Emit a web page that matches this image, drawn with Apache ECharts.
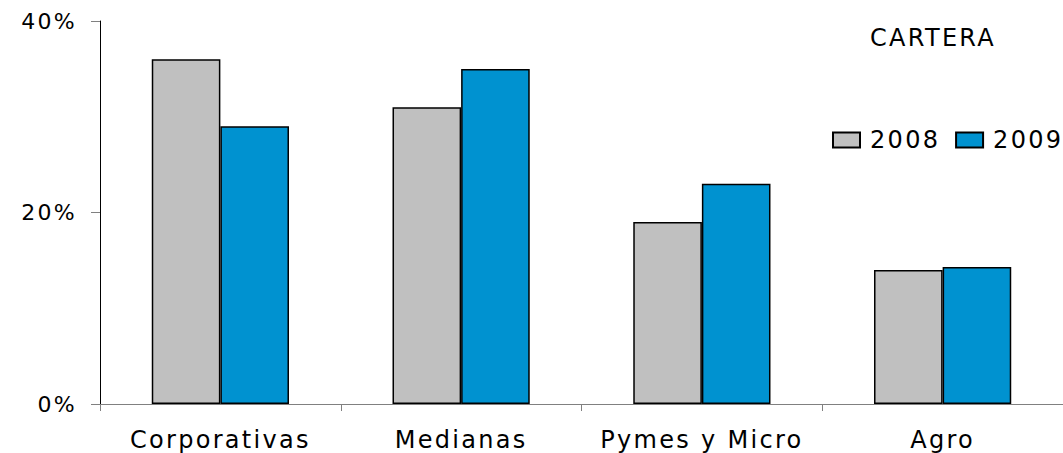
<!DOCTYPE html>
<html>
<head>
<meta charset="utf-8">
<script src="https://cdn.jsdelivr.net/npm/echarts@6/dist/echarts.min.js"></script>
<style>
html,body{margin:0;padding:0;background:#fff;}
#c{width:1063px;height:453px;}
#c svg text{letter-spacing:2.3px;}
</style>
</head>
<body>
<div id="c"></div>
<script>
const categories = ['Corporativas', 'Medianas', 'Pymes y Micro', 'Agro'];
const values2008 = [36, 31, 19, 14];
const values2009 = [29, 35, 23, 14.3];
const seriesNames = ['2008', '2009'];
const yTicks = { min: 0, max: 40, interval: 20 };
const titleText = 'CARTERA';

const chart = echarts.init(document.getElementById('c'), null, { renderer: 'svg' });
const font = 'DejaVu Sans, Verdana, sans-serif';
chart.setOption({
  animation: false,
  title: {
    text: titleText,
    left: 928, top: 21, textAlign: 'center',
    textStyle: { fontFamily: font, fontSize: 24, fontWeight: 'normal', color: '#000' }
  },
  legend: {
    data: seriesNames,
    orient: 'horizontal',
    left: 832, top: 128, width: 231, padding: 0,
    itemWidth: 27, itemHeight: 15, itemGap: 24,
    icon: 'rect',
    textStyle: { fontFamily: font, fontSize: 24, color: '#000', padding: [0, 0, 0, 5] }
  },
  grid: { left: 100, right: 0, top: 21, bottom: 49 },
  xAxis: {
    type: 'category',
    data: categories,
    axisLine: { lineStyle: { color: '#808080', width: 1 } },
    axisTick: { show: true, length: 7, lineStyle: { color: '#808080' } },
    axisLabel: { fontFamily: font, fontSize: 24, color: '#000', margin: 24 }
  },
  yAxis: {
    type: 'value',
    min: yTicks.min, max: yTicks.max, interval: yTicks.interval,
    splitLine: { show: false },
    axisLine: { show: true, lineStyle: { color: '#000', width: 1 } },
    axisTick: { show: true, length: 9, lineStyle: { color: '#808080' } },
    axisLabel: { fontFamily: font, fontSize: 22, color: '#000', margin: 23, formatter: '{value}%' }
  },
  series: [
    {
      name: seriesNames[0], type: 'bar', data: values2008,
      barGap: '0%', barCategoryGap: '43%',
      itemStyle: { color: '#c0c0c0', borderColor: '#000', borderWidth: 1.5 }
    },
    {
      name: seriesNames[1], type: 'bar', data: values2009,
      itemStyle: { color: '#0092d0', borderColor: '#000', borderWidth: 1.5 }
    }
  ]
});
</script>
</body>
</html>
